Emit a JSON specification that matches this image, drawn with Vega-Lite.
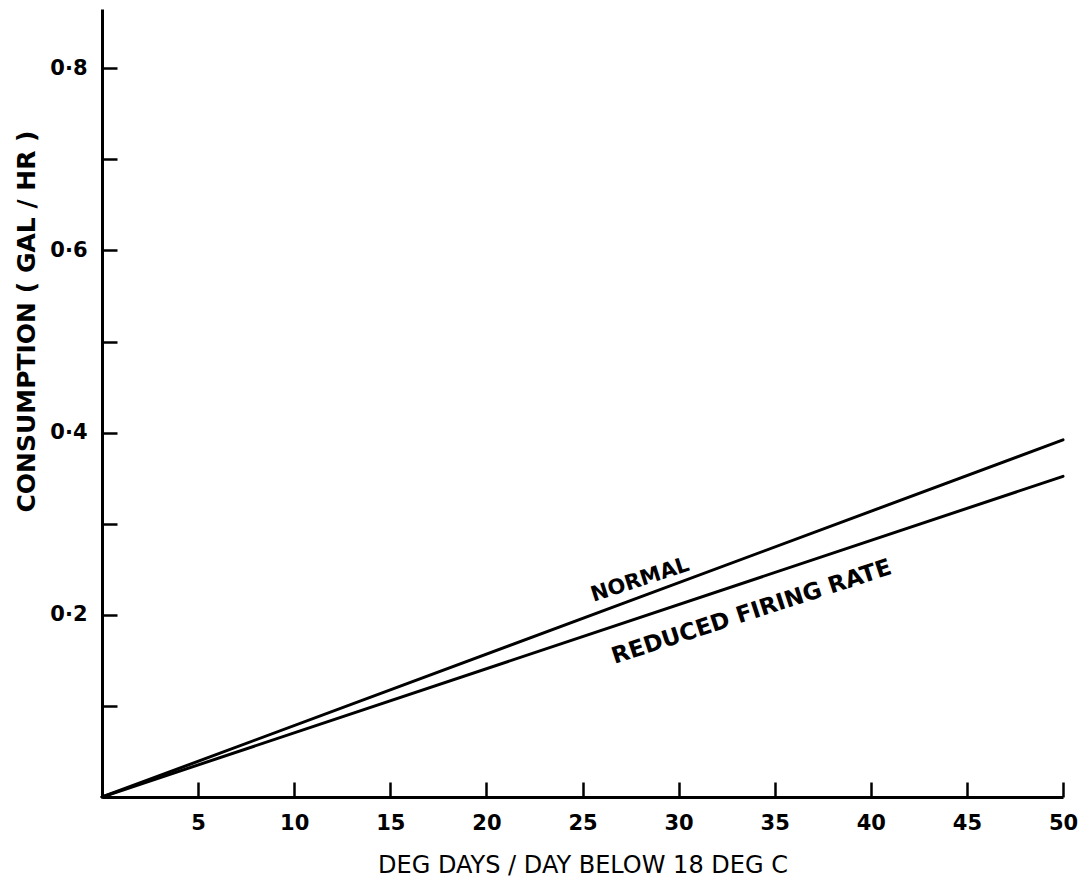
{
  "$schema": "https://vega.github.io/schema/vega-lite/v6.json",
  "autosize": {"type": "none"},
  "padding": {"left": 102, "top": 9, "right": 29, "bottom": 83},
  "width": 961,
  "height": 788,
  "background": "white",
  "config": {
    "view": {"stroke": null},
    "font": "DejaVu Sans",
    "axis": {
      "domainColor": "black",
      "domainWidth": 3,
      "tickColor": "black",
      "tickWidth": 2.5,
      "labelColor": "black",
      "labelFont": "DejaVu Sans",
      "labelFontWeight": "bold",
      "labelFontSize": 21,
      "titleColor": "black",
      "titleFont": "DejaVu Sans",
      "titleFontWeight": "bold",
      "grid": false
    }
  },
  "datasets": {
    "lines": [
      {"deg_days": 0, "consumption": 0, "mode": "NORMAL"},
      {"deg_days": 50, "consumption": 0.392, "mode": "NORMAL"},
      {"deg_days": 0, "consumption": 0, "mode": "REDUCED FIRING RATE"},
      {"deg_days": 50, "consumption": 0.352, "mode": "REDUCED FIRING RATE"}
    ],
    "notes": [
      {"deg_days": 28.0, "consumption": 0.238, "text": "NORMAL", "size": 21},
      {"deg_days": 33.8, "consumption": 0.203, "text": "REDUCED FIRING RATE", "size": 23}
    ]
  },
  "layer": [
    {
      "data": {"name": "lines"},
      "mark": {"type": "line", "color": "black", "strokeWidth": 3, "strokeCap": "round"},
      "encoding": {
        "x": {
          "field": "deg_days",
          "type": "quantitative",
          "scale": {"domain": [0, 50], "nice": false, "zero": true},
          "axis": {
            "values": [5, 10, 15, 20, 25, 30, 35, 40, 45, 50],
            "tickSize": -15,
            "labelPadding": 30,
            "labelFlush": false,
            "title": "DEG DAYS / DAY BELOW 18 DEG C",
            "titleFontSize": 24,
            "titleFontWeight": "normal",
            "titlePadding": 20
          }
        },
        "y": {
          "field": "consumption",
          "type": "quantitative",
          "scale": {"domain": [0, 0.865], "nice": false},
          "axis": {
            "values": [0.1, 0.2, 0.3, 0.4, 0.5, 0.6, 0.7, 0.8],
            "tickSize": -15,
            "labelPadding": 30,
            "labelExpr": "(round(datum.value * 10) % 2 == 0) ? replace(format(datum.value, '.1f'), '.', '·') : ''",
            "title": "CONSUMPTION ( GAL / HR )",
            "titleFontSize": 25,
            "titleX": -76,
            "titleY": 312,
            "titleAlign": "center",
            "titleBaseline": "middle"
          }
        },
        "detail": {"field": "mode", "type": "nominal"}
      }
    },
    {
      "data": {"name": "notes"},
      "mark": {"type": "text", "color": "black", "fontWeight": "bold", "angle": 342, "align": "center", "baseline": "middle"},
      "encoding": {
        "x": {"field": "deg_days", "type": "quantitative"},
        "y": {"field": "consumption", "type": "quantitative"},
        "text": {"field": "text", "type": "nominal"},
        "size": {"field": "size", "type": "quantitative", "scale": null}
      }
    }
  ]
}
